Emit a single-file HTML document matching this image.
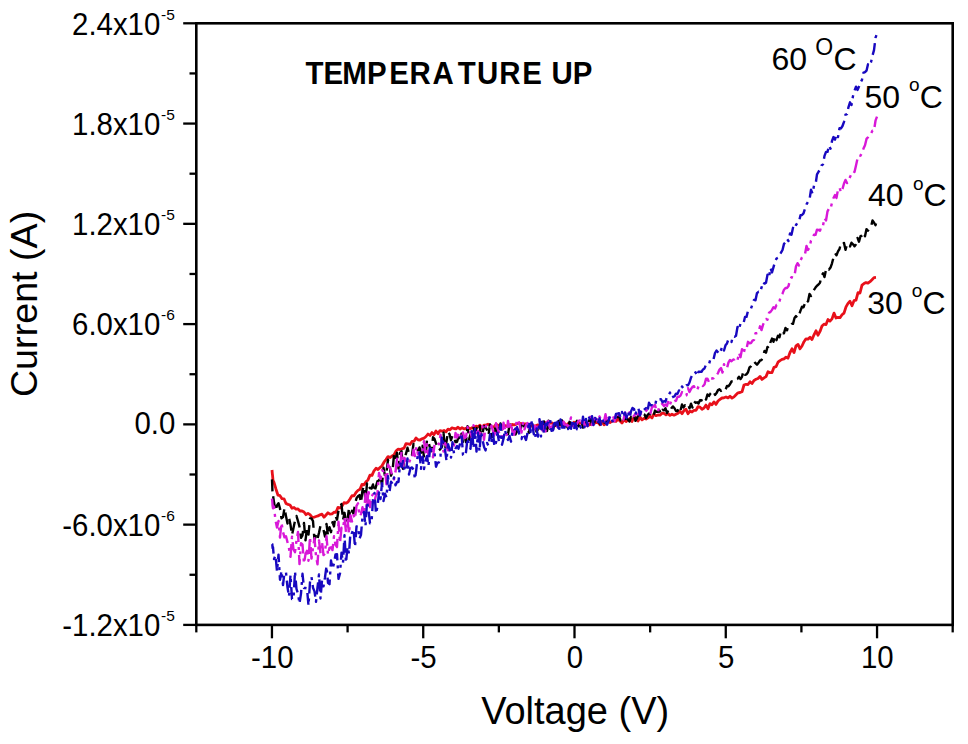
<!DOCTYPE html>
<html><head><meta charset="utf-8"><style>
html,body{margin:0;padding:0;background:#fff;width:968px;height:744px;overflow:hidden}
svg{position:absolute;left:0;top:0;display:block}
text{font-family:"Liberation Sans",sans-serif;fill:#000}
</style></head><body>
<svg width="968" height="744" viewBox="0 0 968 744">
<rect x="0" y="0" width="968" height="744" fill="#fff"/>
<g fill="none" stroke-linejoin="round" stroke-width="2.4">
<path d="M272.0,470.0 L272.3,473.3 L272.6,475.8 L273.0,480.3 L274.0,482.4 L276.0,489.2 L278.0,495.2 L280.0,495.7 L282.0,498.7 L284.0,498.8 L286.0,503.5 L288.0,504.4 L290.0,505.0 L292.0,508.2 L294.0,507.5 L296.0,509.2 L298.0,508.9 L300.0,511.0 L302.0,511.0 L304.0,512.0 L306.0,514.7 L308.0,513.4 L310.0,514.7 L312.0,517.1 L314.0,517.3 L316.0,516.5 L318.0,515.9 L320.0,514.8 L322.0,514.2 L324.0,517.2 L326.0,515.0 L328.0,512.8 L330.0,514.1 L332.0,513.9 L334.0,512.2 L336.0,512.3 L338.0,507.4 L340.0,508.0 L342.0,506.1 L344.0,502.7 L346.0,503.2 L348.0,502.1 L350.0,499.0 L352.0,495.6 L354.0,495.9 L356.0,492.5 L358.0,490.4 L360.0,489.2 L362.0,484.4 L364.0,484.8 L366.0,481.8 L368.0,479.9 L370.0,475.1 L372.0,475.4 L374.0,470.8 L376.0,468.3 L378.0,469.5 L380.0,467.6 L382.0,465.8 L384.0,462.2 L386.0,459.6 L388.0,456.6 L390.0,457.5 L392.0,456.1 L394.0,455.0 L396.0,451.1 L398.0,449.2 L400.0,449.5 L402.0,448.8 L404.0,448.2 L406.0,443.6 L408.0,443.8 L410.0,444.5 L412.0,441.5 L414.0,441.2 L416.0,438.0 L418.0,439.8 L420.0,440.0 L422.0,438.8 L424.0,438.2 L426.0,436.5 L428.0,434.0 L430.0,435.5 L432.0,432.6 L434.0,434.7 L436.0,431.0 L438.0,433.8 L440.0,430.6 L442.0,431.2 L444.0,430.5 L446.0,431.8 L448.0,429.2 L450.0,429.8 L452.0,427.8 L454.0,428.5 L456.0,428.8 L458.0,427.2 L460.0,429.1 L462.0,427.7 L464.0,428.9 L466.0,428.4 L468.0,427.3 L470.0,428.9 L472.0,427.7 L474.0,428.3 L476.0,426.1 L478.0,426.8 L480.0,425.2 L482.0,428.4 L484.0,425.1 L486.0,425.1 L488.0,424.2 L490.0,425.0 L492.0,427.1 L494.0,426.8 L496.0,424.3 L498.0,425.3 L500.0,425.4 L502.0,426.4 L504.0,425.4 L506.0,425.8 L508.0,426.8 L510.0,426.2 L512.0,424.5 L514.0,424.8 L516.0,424.3 L518.0,423.1 L520.0,423.4 L522.0,423.7 L524.0,423.8 L526.0,423.8 L528.0,424.9 L530.0,426.6 L532.0,425.7 L534.0,425.8 L536.0,425.6 L538.0,424.9 L540.0,426.3 L542.0,425.3 L544.0,424.4 L546.0,422.6 L548.0,424.3 L550.0,423.1 L552.0,422.8 L554.0,424.4 L556.0,425.6 L558.0,423.4 L560.0,425.4 L562.0,424.4 L564.0,422.7 L566.0,426.2 L568.0,423.7 L570.0,423.2 L572.0,425.5 L574.0,422.3 L576.0,424.9 L578.0,422.5 L580.0,423.3 L582.0,422.6 L584.0,425.2 L586.0,423.2 L588.0,425.7 L590.0,424.1 L592.0,424.3 L594.0,423.4 L596.0,422.4 L598.0,422.6 L600.0,424.8 L602.0,421.4 L604.0,424.7 L606.0,423.5 L608.0,421.5 L610.0,422.6 L612.0,421.2 L614.0,421.1 L616.0,421.4 L618.0,419.0 L620.0,421.0 L622.0,423.0 L624.0,419.6 L626.0,421.6 L628.0,419.9 L630.0,418.5 L632.0,421.5 L634.0,417.0 L636.0,418.0 L638.0,421.1 L640.0,417.2 L642.0,419.8 L644.0,418.3 L646.0,419.0 L648.0,417.8 L650.0,416.2 L652.0,417.9 L654.0,413.9 L656.0,415.7 L658.0,415.0 L660.0,415.2 L662.0,413.2 L664.0,413.4 L666.0,414.8 L668.0,413.6 L670.0,415.4 L672.0,414.2 L674.0,415.2 L676.0,414.2 L678.0,413.3 L680.0,411.3 L682.0,413.7 L684.0,410.5 L686.0,409.3 L688.0,413.7 L690.0,411.1 L692.0,412.0 L694.0,410.3 L696.0,410.3 L698.0,406.7 L700.0,407.1 L702.0,409.2 L704.0,408.0 L706.0,405.1 L708.0,408.7 L710.0,403.6 L712.0,404.8 L714.0,401.9 L716.0,404.4 L718.0,401.0 L720.0,399.4 L722.0,398.0 L724.0,397.8 L726.0,397.0 L728.0,397.9 L730.0,396.3 L732.0,398.1 L734.0,396.9 L736.0,394.8 L738.0,392.8 L740.0,392.5 L742.0,391.8 L744.0,385.0 L746.0,384.3 L748.0,384.5 L750.0,381.7 L752.0,383.6 L754.0,380.4 L756.0,379.3 L758.0,378.5 L760.0,376.4 L762.0,379.4 L764.0,377.9 L766.0,376.6 L768.0,371.7 L770.0,372.7 L772.0,372.6 L774.0,367.3 L776.0,366.7 L778.0,362.2 L780.0,360.6 L782.0,359.4 L784.0,358.8 L786.0,357.2 L788.0,358.1 L790.0,352.5 L792.0,348.8 L794.0,352.5 L796.0,345.8 L798.0,344.4 L800.0,348.8 L802.0,346.0 L804.0,341.7 L806.0,338.8 L808.0,339.1 L810.0,337.3 L812.0,339.5 L814.0,334.8 L816.0,330.8 L818.0,335.2 L820.0,331.4 L822.0,326.1 L824.0,324.2 L826.0,324.6 L828.0,319.5 L830.0,321.1 L832.0,318.9 L834.0,313.1 L836.0,318.0 L838.0,317.4 L840.0,317.7 L842.0,314.8 L844.0,313.1 L846.0,306.9 L848.0,303.4 L850.0,301.3 L852.0,305.7 L854.0,300.7 L856.0,300.2 L858.0,292.7 L860.0,293.0 L862.0,285.1 L864.0,283.6 L866.0,282.6 L868.0,283.2 L870.0,281.7 L872.0,279.7 L874.0,277.6 L876.0,277.4" stroke="#e8101a" stroke-width="2.8"/>
<path d="M272.0,479.4 L272.3,487.0 L272.6,495.9 L273.0,495.4 L274.0,502.3 L275.5,510.8 L277.0,505.5 L278.5,503.2 L280.0,508.5 L281.5,518.2 L283.0,517.1 L284.5,508.0 L286.0,516.1 L287.5,523.5 L289.0,517.9 L290.5,524.8 L292.0,535.1 L293.5,528.1 L295.0,520.9 L296.5,516.0 L298.0,521.2 L299.5,526.6 L301.0,537.9 L302.5,535.3 L304.0,523.0 L305.5,540.4 L307.0,528.1 L308.5,534.6 L310.0,518.4 L311.5,518.4 L313.0,521.1 L314.5,540.2 L316.0,534.3 L317.5,538.7 L319.0,532.7 L320.5,525.6 L322.0,528.1 L323.5,529.7 L325.0,536.5 L326.5,523.9 L328.0,535.8 L329.5,527.2 L331.0,532.2 L332.5,522.1 L334.0,526.4 L335.5,515.8 L337.0,519.7 L338.5,510.6 L340.0,506.6 L341.5,504.1 L343.0,520.0 L344.5,512.8 L346.0,522.7 L347.5,520.0 L349.0,507.9 L350.5,521.0 L352.0,510.7 L353.5,513.7 L355.0,504.2 L356.5,498.2 L358.0,496.3 L359.5,495.1 L361.0,502.7 L362.5,490.0 L364.0,485.9 L365.5,501.5 L367.0,483.4 L368.5,488.9 L370.0,487.7 L371.5,488.6 L373.0,484.4 L374.5,492.0 L376.0,486.4 L377.5,481.1 L379.0,480.5 L380.5,476.6 L382.0,484.8 L383.5,467.8 L385.0,476.0 L386.5,471.8 L388.0,459.8 L389.5,463.8 L391.0,475.7 L392.5,471.6 L394.0,454.8 L395.5,459.6 L397.0,452.8 L398.5,468.6 L400.0,453.1 L401.5,451.2 L403.0,468.9 L404.5,457.2 L406.0,453.8 L407.5,447.7 L409.0,453.6 L410.5,452.4 L412.0,454.8 L413.5,444.0 L415.0,446.2 L416.5,446.8 L418.0,450.6 L419.5,447.4 L421.0,452.8 L422.5,445.8 L424.0,457.2 L425.5,457.5 L427.0,439.7 L428.5,441.9 L430.0,448.0 L431.5,451.2 L433.0,437.3 L434.5,438.9 L436.0,443.4 L437.5,446.6 L439.0,450.3 L440.5,448.9 L442.0,446.9 L443.5,432.7 L445.0,448.9 L446.5,441.7 L448.0,431.6 L449.5,434.1 L451.0,440.2 L452.5,435.5 L454.0,436.2 L455.5,442.1 L457.0,442.0 L458.5,436.8 L460.0,440.7 L461.5,433.7 L463.0,443.1 L464.5,436.4 L466.0,442.1 L467.5,426.3 L469.0,439.9 L470.5,434.2 L472.0,436.4 L473.5,427.5 L475.0,433.0 L476.5,428.5 L478.0,425.3 L479.5,423.5 L481.0,437.5 L482.5,433.6 L484.0,426.2 L485.5,426.9 L487.0,430.0 L488.5,435.2 L490.0,424.5 L491.5,437.1 L493.0,436.6 L494.5,426.1 L496.0,431.9 L497.5,427.7 L499.0,432.4 L500.5,423.5 L502.0,428.9 L503.5,430.5 L505.0,430.9 L506.5,431.7 L508.0,434.3 L509.5,425.2 L511.0,424.0 L512.5,427.1 L514.0,429.4 L515.5,434.4 L517.0,431.0 L518.5,431.2 L520.0,434.1 L521.5,424.9 L523.0,424.7 L524.5,426.7 L526.0,425.0 L527.5,429.3 L529.0,432.9 L530.5,423.0 L532.0,427.3 L533.5,429.1 L535.0,426.8 L536.5,431.6 L538.0,429.4 L539.5,430.9 L541.0,422.0 L542.5,422.9 L544.0,421.4 L545.5,429.7 L547.0,431.0 L548.5,420.6 L550.0,428.9 L551.5,428.1 L553.0,429.8 L554.5,423.0 L556.0,427.5 L557.5,422.5 L559.0,420.8 L560.5,427.4 L562.0,420.3 L563.5,426.7 L565.0,422.5 L566.5,424.4 L568.0,428.2 L569.5,421.8 L571.0,423.9 L572.5,422.7 L574.0,421.0 L575.5,423.6 L577.0,420.7 L578.5,426.4 L580.0,424.6 L581.5,421.4 L583.0,427.6 L584.5,421.7 L586.0,424.6 L587.5,425.1 L589.0,420.7 L590.5,418.3 L592.0,426.1 L593.5,426.5 L595.0,419.5 L596.5,419.2 L598.0,421.5 L599.5,422.8 L601.0,426.0 L602.5,425.6 L604.0,425.6 L605.5,419.1 L607.0,422.0 L608.5,420.4 L610.0,418.5 L611.5,417.0 L613.0,417.6 L614.5,419.0 L616.0,416.6 L617.5,417.0 L619.0,416.0 L620.5,420.4 L622.0,419.2 L623.5,417.0 L625.0,419.1 L626.5,418.1 L628.0,419.7 L629.5,421.6 L631.0,417.0 L632.5,419.0 L634.0,415.6 L635.5,420.8 L637.0,418.2 L638.5,414.6 L640.0,415.1 L641.5,414.1 L643.0,414.0 L644.5,414.6 L646.0,418.0 L647.5,415.1 L649.0,413.5 L650.5,414.1 L652.0,412.7 L653.5,415.7 L655.0,410.6 L656.5,411.9 L658.0,411.8 L659.5,410.5 L661.0,414.1 L662.5,409.8 L664.0,410.4 L665.5,408.3 L667.0,412.9 L668.5,409.8 L670.0,411.5 L671.5,408.1 L673.0,406.4 L674.5,408.2 L676.0,411.0 L677.5,411.1 L679.0,407.3 L680.5,410.4 L682.0,404.5 L683.5,407.4 L685.0,405.2 L686.5,406.1 L688.0,404.1 L689.5,408.3 L691.0,403.7 L692.5,407.6 L694.0,401.2 L695.5,402.8 L697.0,402.3 L698.5,403.5 L700.0,400.2 L701.5,400.5 L703.0,396.7 L704.5,397.6 L706.0,399.6 L707.5,394.4 L709.0,396.0 L710.5,393.5 L712.0,392.1 L713.5,390.9 L715.0,394.9 L716.5,393.1 L718.0,390.1 L719.5,389.3 L721.0,390.9 L722.5,389.3 L724.0,390.7 L725.5,389.9 L727.0,385.9 L728.5,386.2 L730.0,384.3 L731.5,381.4 L733.0,381.2 L734.5,381.9 L736.0,379.5 L737.5,378.9 L739.0,376.8 L740.5,379.1 L742.0,376.8 L743.5,371.0 L745.0,374.8 L746.5,374.3 L748.0,372.2 L749.5,367.4 L751.0,366.2 L752.5,364.0 L754.0,361.4 L755.5,363.2 L757.0,364.7 L758.5,362.8 L760.0,360.5 L761.5,360.1 L763.0,356.6 L764.5,351.0 L766.0,352.7 L767.5,346.9 L769.0,348.4 L770.5,342.1 L772.0,338.6 L773.5,341.8 L775.0,335.8 L776.5,340.2 L778.0,335.7 L779.5,337.3 L781.0,330.7 L782.5,333.3 L784.0,333.2 L785.5,327.9 L787.0,330.3 L788.5,325.4 L790.0,325.1 L791.5,323.9 L793.0,323.9 L794.5,318.0 L796.0,316.1 L797.5,318.1 L799.0,315.1 L800.5,310.6 L802.0,306.7 L803.5,307.3 L805.0,303.2 L806.5,299.6 L808.0,301.4 L809.5,293.9 L811.0,296.0 L812.5,292.1 L814.0,289.8 L815.5,287.6 L817.0,285.7 L818.5,284.5 L820.0,282.8 L821.5,275.8 L823.0,273.3 L824.5,277.1 L826.0,269.8 L827.5,267.7 L829.0,269.5 L830.5,267.6 L832.0,263.3 L833.5,257.4 L835.0,253.2 L836.5,255.3 L838.0,251.3 L839.5,249.0 L841.0,243.3 L842.5,244.4 L844.0,242.9 L845.5,249.8 L847.0,244.5 L848.5,243.8 L850.0,246.5 L851.5,242.7 L853.0,244.3 L854.5,246.3 L856.0,244.2 L857.5,237.9 L859.0,241.7 L860.5,236.2 L862.0,235.6 L863.5,232.5 L865.0,236.3 L866.5,229.1 L868.0,230.7 L869.5,228.0 L871.0,226.8 L872.5,220.4 L874.0,222.7 L875.5,225.2 L877.0,220.5" stroke="#000" stroke-dasharray="12 6"/>
<path d="M272.0,498.6 L272.3,501.5 L272.6,505.8 L273.0,508.3 L274.0,506.6 L275.5,520.4 L277.0,527.5 L278.5,521.0 L280.0,537.6 L281.5,522.7 L283.0,532.0 L284.5,537.3 L286.0,536.2 L287.5,542.3 L289.0,548.5 L290.5,556.9 L292.0,536.6 L293.5,549.5 L295.0,552.2 L296.5,540.4 L298.0,532.0 L299.5,564.1 L301.0,543.3 L302.5,544.4 L304.0,563.5 L305.5,554.1 L307.0,550.8 L308.5,560.7 L310.0,537.0 L311.5,558.6 L313.0,547.7 L314.5,538.3 L316.0,556.1 L317.5,564.3 L319.0,540.5 L320.5,553.3 L322.0,541.8 L323.5,555.1 L325.0,553.4 L326.5,536.2 L328.0,554.6 L329.5,547.8 L331.0,547.3 L332.5,550.1 L334.0,536.3 L335.5,544.9 L337.0,547.0 L338.5,521.8 L340.0,542.8 L341.5,527.7 L343.0,528.8 L344.5,517.6 L346.0,532.2 L347.5,519.0 L349.0,533.8 L350.5,515.4 L352.0,521.5 L353.5,515.1 L355.0,518.9 L356.5,505.8 L358.0,503.3 L359.5,516.1 L361.0,514.1 L362.5,507.2 L364.0,514.3 L365.5,493.8 L367.0,508.3 L368.5,488.8 L370.0,507.2 L371.5,496.5 L373.0,494.2 L374.5,501.6 L376.0,495.1 L377.5,493.3 L379.0,473.0 L380.5,479.1 L382.0,470.2 L383.5,471.2 L385.0,470.0 L386.5,484.3 L388.0,464.5 L389.5,467.1 L391.0,470.5 L392.5,477.9 L394.0,479.4 L395.5,471.8 L397.0,458.6 L398.5,465.6 L400.0,468.5 L401.5,451.8 L403.0,466.2 L404.5,457.9 L406.0,462.5 L407.5,463.7 L409.0,463.0 L410.5,458.8 L412.0,458.9 L413.5,449.8 L415.0,456.1 L416.5,446.8 L418.0,454.5 L419.5,455.1 L421.0,460.0 L422.5,450.6 L424.0,441.3 L425.5,452.4 L427.0,444.3 L428.5,456.0 L430.0,447.1 L431.5,446.2 L433.0,457.4 L434.5,444.8 L436.0,443.0 L437.5,442.1 L439.0,444.2 L440.5,434.7 L442.0,444.0 L443.5,451.6 L445.0,442.9 L446.5,446.3 L448.0,450.2 L449.5,447.4 L451.0,444.8 L452.5,445.8 L454.0,445.5 L455.5,432.9 L457.0,437.4 L458.5,434.1 L460.0,432.0 L461.5,438.1 L463.0,432.4 L464.5,438.3 L466.0,437.1 L467.5,426.9 L469.0,433.4 L470.5,432.0 L472.0,438.0 L473.5,425.3 L475.0,426.7 L476.5,433.1 L478.0,430.8 L479.5,435.6 L481.0,429.0 L482.5,426.2 L484.0,439.9 L485.5,426.7 L487.0,424.7 L488.5,427.0 L490.0,427.9 L491.5,425.6 L493.0,431.1 L494.5,438.1 L496.0,423.3 L497.5,428.3 L499.0,432.5 L500.5,436.1 L502.0,437.8 L503.5,422.8 L505.0,429.4 L506.5,435.0 L508.0,420.9 L509.5,429.6 L511.0,422.6 L512.5,432.2 L514.0,434.8 L515.5,428.2 L517.0,419.6 L518.5,420.4 L520.0,425.9 L521.5,432.5 L523.0,422.9 L524.5,429.4 L526.0,425.3 L527.5,423.1 L529.0,429.5 L530.5,423.5 L532.0,424.4 L533.5,429.9 L535.0,425.9 L536.5,429.9 L538.0,426.0 L539.5,420.9 L541.0,424.7 L542.5,430.5 L544.0,426.2 L545.5,431.4 L547.0,418.5 L548.5,422.8 L550.0,428.3 L551.5,427.1 L553.0,425.3 L554.5,426.5 L556.0,429.0 L557.5,426.4 L559.0,424.6 L560.5,424.7 L562.0,425.8 L563.5,421.6 L565.0,425.5 L566.5,424.7 L568.0,426.5 L569.5,422.8 L571.0,417.5 L572.5,423.2 L574.0,426.7 L575.5,424.0 L577.0,423.9 L578.5,420.9 L580.0,420.4 L581.5,424.3 L583.0,417.1 L584.5,425.5 L586.0,425.5 L587.5,426.2 L589.0,417.2 L590.5,416.9 L592.0,425.0 L593.5,419.6 L595.0,418.1 L596.5,419.1 L598.0,421.8 L599.5,416.5 L601.0,419.6 L602.5,421.2 L604.0,421.5 L605.5,414.2 L607.0,421.9 L608.5,417.9 L610.0,417.7 L611.5,418.7 L613.0,415.7 L614.5,421.3 L616.0,414.6 L617.5,417.5 L619.0,413.7 L620.5,417.7 L622.0,420.0 L623.5,419.6 L625.0,412.5 L626.5,416.7 L628.0,418.8 L629.5,412.3 L631.0,413.9 L632.5,416.2 L634.0,416.0 L635.5,413.2 L637.0,414.4 L638.5,414.3 L640.0,411.3 L641.5,413.4 L643.0,412.4 L644.5,413.0 L646.0,411.1 L647.5,409.3 L649.0,409.7 L650.5,413.2 L652.0,407.0 L653.5,406.3 L655.0,404.9 L656.5,411.1 L658.0,411.7 L659.5,405.3 L661.0,405.0 L662.5,403.8 L664.0,406.1 L665.5,404.4 L667.0,406.0 L668.5,400.4 L670.0,404.5 L671.5,400.4 L673.0,402.0 L674.5,401.0 L676.0,400.8 L677.5,396.8 L679.0,396.8 L680.5,395.6 L682.0,392.1 L683.5,393.6 L685.0,396.0 L686.5,395.2 L688.0,388.1 L689.5,392.1 L691.0,389.0 L692.5,386.9 L694.0,386.2 L695.5,390.1 L697.0,390.4 L698.5,386.5 L700.0,384.6 L701.5,384.6 L703.0,386.0 L704.5,384.5 L706.0,378.7 L707.5,378.7 L709.0,382.2 L710.5,378.5 L712.0,378.5 L713.5,378.2 L715.0,376.0 L716.5,375.5 L718.0,373.0 L719.5,369.5 L721.0,368.0 L722.5,372.5 L724.0,364.3 L725.5,368.0 L727.0,368.2 L728.5,362.4 L730.0,360.0 L731.5,361.3 L733.0,359.7 L734.5,359.4 L736.0,357.9 L737.5,360.2 L739.0,352.8 L740.5,357.2 L742.0,349.1 L743.5,353.9 L745.0,347.8 L746.5,348.9 L748.0,341.8 L749.5,343.2 L751.0,343.0 L752.5,340.7 L754.0,340.0 L755.5,333.3 L757.0,333.1 L758.5,332.7 L760.0,326.3 L761.5,330.1 L763.0,324.9 L764.5,321.4 L766.0,318.9 L767.5,319.7 L769.0,312.8 L770.5,311.9 L772.0,309.9 L773.5,307.2 L775.0,308.4 L776.5,305.0 L778.0,305.0 L779.5,301.2 L781.0,295.9 L782.5,293.7 L784.0,289.7 L785.5,288.0 L787.0,288.0 L788.5,286.1 L790.0,279.9 L791.5,277.2 L793.0,277.7 L794.5,275.8 L796.0,266.3 L797.5,263.2 L799.0,265.5 L800.5,260.7 L802.0,257.3 L803.5,256.0 L805.0,254.1 L806.5,246.0 L808.0,250.0 L809.5,247.3 L811.0,240.6 L812.5,238.6 L814.0,234.7 L815.5,234.8 L817.0,229.7 L818.5,230.0 L820.0,230.8 L821.5,225.5 L823.0,225.6 L824.5,218.0 L826.0,220.5 L827.5,211.4 L829.0,208.6 L830.5,209.1 L832.0,202.5 L833.5,198.0 L835.0,195.0 L836.5,197.9 L838.0,189.6 L839.5,187.6 L841.0,192.4 L842.5,188.9 L844.0,183.5 L845.5,179.9 L847.0,183.1 L848.5,180.2 L850.0,177.1 L851.5,173.6 L853.0,171.1 L854.5,171.9 L856.0,165.4 L857.5,158.7 L859.0,155.2 L860.5,155.7 L862.0,153.1 L863.5,148.5 L865.0,145.3 L866.5,138.9 L868.0,137.2 L869.5,134.5 L871.0,133.8 L872.5,130.6 L874.0,130.7 L875.5,120.7 L877.0,116.7" stroke="#d818d8" stroke-dasharray="14 5 3 5"/>
<path d="M272.0,543.9 L272.3,544.1 L272.6,548.2 L273.0,547.2 L274.0,559.1 L275.5,555.3 L277.0,571.3 L278.5,554.6 L280.0,579.7 L281.5,570.9 L283.0,585.0 L284.5,572.4 L286.0,572.5 L287.5,587.3 L289.0,596.5 L290.5,574.9 L292.0,599.1 L293.5,598.9 L295.0,571.5 L296.5,589.0 L298.0,593.6 L299.5,603.5 L301.0,593.6 L302.5,573.8 L304.0,588.0 L305.5,588.0 L307.0,588.3 L308.5,605.6 L310.0,582.2 L311.5,576.9 L313.0,587.7 L314.5,591.4 L316.0,601.9 L317.5,587.4 L319.0,574.4 L320.5,598.5 L322.0,580.6 L323.5,586.4 L325.0,577.4 L326.5,566.2 L328.0,582.8 L329.5,584.2 L331.0,560.5 L332.5,568.9 L334.0,563.4 L335.5,554.4 L337.0,554.2 L338.5,578.9 L340.0,573.5 L341.5,552.8 L343.0,562.7 L344.5,535.2 L346.0,562.8 L347.5,546.8 L349.0,553.5 L350.5,532.1 L352.0,532.8 L353.5,529.1 L355.0,547.0 L356.5,526.5 L358.0,526.3 L359.5,538.6 L361.0,534.7 L362.5,516.5 L364.0,511.9 L365.5,526.1 L367.0,502.1 L368.5,509.5 L370.0,523.3 L371.5,523.0 L373.0,499.6 L374.5,493.0 L376.0,513.6 L377.5,506.5 L379.0,492.5 L380.5,499.0 L382.0,483.3 L383.5,501.1 L385.0,493.7 L386.5,497.4 L388.0,476.2 L389.5,491.8 L391.0,481.6 L392.5,484.0 L394.0,477.4 L395.5,485.3 L397.0,481.9 L398.5,482.0 L400.0,463.4 L401.5,467.1 L403.0,461.0 L404.5,469.4 L406.0,471.2 L407.5,458.5 L409.0,474.6 L410.5,468.0 L412.0,467.4 L413.5,469.6 L415.0,479.2 L416.5,467.8 L418.0,451.8 L419.5,452.7 L421.0,468.8 L422.5,456.6 L424.0,469.1 L425.5,460.8 L427.0,455.9 L428.5,466.0 L430.0,448.2 L431.5,450.4 L433.0,449.8 L434.5,452.6 L436.0,466.7 L437.5,462.9 L439.0,462.3 L440.5,455.7 L442.0,436.1 L443.5,443.7 L445.0,449.5 L446.5,460.8 L448.0,444.2 L449.5,449.2 L451.0,457.6 L452.5,442.1 L454.0,453.6 L455.5,448.6 L457.0,446.1 L458.5,448.7 L460.0,444.1 L461.5,433.0 L463.0,454.9 L464.5,456.4 L466.0,452.1 L467.5,438.2 L469.0,445.5 L470.5,448.8 L472.0,429.0 L473.5,448.4 L475.0,428.9 L476.5,451.6 L478.0,432.6 L479.5,451.4 L481.0,431.8 L482.5,439.4 L484.0,446.8 L485.5,450.4 L487.0,442.9 L488.5,445.8 L490.0,434.3 L491.5,443.0 L493.0,433.5 L494.5,446.7 L496.0,442.5 L497.5,432.6 L499.0,442.1 L500.5,424.5 L502.0,444.7 L503.5,438.8 L505.0,430.0 L506.5,437.1 L508.0,439.9 L509.5,436.1 L511.0,441.6 L512.5,430.7 L514.0,428.4 L515.5,429.3 L517.0,427.1 L518.5,431.1 L520.0,436.8 L521.5,439.0 L523.0,433.6 L524.5,436.5 L526.0,440.0 L527.5,433.3 L529.0,421.5 L530.5,432.1 L532.0,419.9 L533.5,432.6 L535.0,438.5 L536.5,428.4 L538.0,436.6 L539.5,419.1 L541.0,436.5 L542.5,421.6 L544.0,433.6 L545.5,423.7 L547.0,425.2 L548.5,420.4 L550.0,418.6 L551.5,430.8 L553.0,430.4 L554.5,419.8 L556.0,427.9 L557.5,421.7 L559.0,431.9 L560.5,419.4 L562.0,426.5 L563.5,431.0 L565.0,425.3 L566.5,427.1 L568.0,429.0 L569.5,427.2 L571.0,428.8 L572.5,419.5 L574.0,429.6 L575.5,423.3 L577.0,429.2 L578.5,425.8 L580.0,426.0 L581.5,428.9 L583.0,416.7 L584.5,427.3 L586.0,419.0 L587.5,426.1 L589.0,417.7 L590.5,420.8 L592.0,416.2 L593.5,425.0 L595.0,417.9 L596.5,420.1 L598.0,424.1 L599.5,418.3 L601.0,424.7 L602.5,419.6 L604.0,424.8 L605.5,422.3 L607.0,424.7 L608.5,420.9 L610.0,415.7 L611.5,418.1 L613.0,422.6 L614.5,422.1 L616.0,413.9 L617.5,413.6 L619.0,413.3 L620.5,417.2 L622.0,412.0 L623.5,417.3 L625.0,412.7 L626.5,418.0 L628.0,411.2 L629.5,418.0 L631.0,411.4 L632.5,407.9 L634.0,408.9 L635.5,415.1 L637.0,408.2 L638.5,408.6 L640.0,415.5 L641.5,409.4 L643.0,411.0 L644.5,409.4 L646.0,408.1 L647.5,411.3 L649.0,402.8 L650.5,405.2 L652.0,405.1 L653.5,406.4 L655.0,406.0 L656.5,398.9 L658.0,398.9 L659.5,399.3 L661.0,399.3 L662.5,402.2 L664.0,401.1 L665.5,401.7 L667.0,396.5 L668.5,395.7 L670.0,392.6 L671.5,397.8 L673.0,396.9 L674.5,396.4 L676.0,393.7 L677.5,393.9 L679.0,390.4 L680.5,391.5 L682.0,386.4 L683.5,388.6 L685.0,387.4 L686.5,385.1 L688.0,385.3 L689.5,382.5 L691.0,377.7 L692.5,374.5 L694.0,374.8 L695.5,372.3 L697.0,375.9 L698.5,371.8 L700.0,371.8 L701.5,371.8 L703.0,369.4 L704.5,368.4 L706.0,364.7 L707.5,364.4 L709.0,364.2 L710.5,358.9 L712.0,359.2 L713.5,359.4 L715.0,353.0 L716.5,350.5 L718.0,352.2 L719.5,353.9 L721.0,350.0 L722.5,346.4 L724.0,350.5 L725.5,345.3 L727.0,343.4 L728.5,339.1 L730.0,339.8 L731.5,341.9 L733.0,336.1 L734.5,336.7 L736.0,335.7 L737.5,327.0 L739.0,329.7 L740.5,323.3 L742.0,323.5 L743.5,323.4 L745.0,317.0 L746.5,316.9 L748.0,310.9 L749.5,310.4 L751.0,308.5 L752.5,304.3 L754.0,299.9 L755.5,300.2 L757.0,293.1 L758.5,291.8 L760.0,292.5 L761.5,287.7 L763.0,282.0 L764.5,283.6 L766.0,282.7 L767.5,274.6 L769.0,277.4 L770.5,268.0 L772.0,272.4 L773.5,267.1 L775.0,261.8 L776.5,258.5 L778.0,257.8 L779.5,255.0 L781.0,252.7 L782.5,250.0 L784.0,243.9 L785.5,242.3 L787.0,238.8 L788.5,241.1 L790.0,233.5 L791.5,234.8 L793.0,227.8 L794.5,229.4 L796.0,225.0 L797.5,222.7 L799.0,221.6 L800.5,215.2 L802.0,215.0 L803.5,213.4 L805.0,208.8 L806.5,204.4 L808.0,201.8 L809.5,199.9 L811.0,189.7 L812.5,193.5 L814.0,185.7 L815.5,184.9 L817.0,174.3 L818.5,171.8 L820.0,169.6 L821.5,165.5 L823.0,164.4 L824.5,155.9 L826.0,151.9 L827.5,151.9 L829.0,145.4 L830.5,148.7 L832.0,141.0 L833.5,137.0 L835.0,139.6 L836.5,134.2 L838.0,137.1 L839.5,128.2 L841.0,128.4 L842.5,126.0 L844.0,121.8 L845.5,114.6 L847.0,114.2 L848.5,107.1 L850.0,102.3 L851.5,105.0 L853.0,96.0 L854.5,90.8 L856.0,86.7 L857.5,90.0 L859.0,86.6 L860.5,82.5 L862.0,79.8 L863.5,72.6 L865.0,72.2 L866.5,70.7 L868.0,64.3 L869.5,65.8 L871.0,62.2 L872.5,55.5 L874.0,50.1 L875.5,37.9 L877.0,33.5" stroke="#1808c0" stroke-dasharray="12 5 3 5"/>
</g>
<g stroke="#000" fill="none">
<rect x="196.3" y="23.3" width="756.40" height="601.60" stroke-width="2.6"/>
<g stroke-width="2.3"><line x1="271.95" y1="624.9" x2="271.95" y2="638.3"/><line x1="423.23" y1="624.9" x2="423.23" y2="638.3"/><line x1="574.50" y1="624.9" x2="574.50" y2="638.3"/><line x1="725.77" y1="624.9" x2="725.77" y2="638.3"/><line x1="877.05" y1="624.9" x2="877.05" y2="638.3"/><line x1="196.31" y1="624.9" x2="196.31" y2="632.4"/><line x1="347.59" y1="624.9" x2="347.59" y2="632.4"/><line x1="498.86" y1="624.9" x2="498.86" y2="632.4"/><line x1="650.14" y1="624.9" x2="650.14" y2="632.4"/><line x1="801.41" y1="624.9" x2="801.41" y2="632.4"/><line x1="952.69" y1="624.9" x2="952.69" y2="632.4"/><line x1="183.2" y1="23.30" x2="196.3" y2="23.30"/><line x1="183.2" y1="123.57" x2="196.3" y2="123.57"/><line x1="183.2" y1="223.83" x2="196.3" y2="223.83"/><line x1="183.2" y1="324.10" x2="196.3" y2="324.10"/><line x1="183.2" y1="424.37" x2="196.3" y2="424.37"/><line x1="183.2" y1="524.63" x2="196.3" y2="524.63"/><line x1="183.2" y1="624.90" x2="196.3" y2="624.90"/><line x1="189.5" y1="73.43" x2="196.3" y2="73.43"/><line x1="189.5" y1="173.70" x2="196.3" y2="173.70"/><line x1="189.5" y1="273.97" x2="196.3" y2="273.97"/><line x1="189.5" y1="374.23" x2="196.3" y2="374.23"/><line x1="189.5" y1="474.50" x2="196.3" y2="474.50"/><line x1="189.5" y1="574.77" x2="196.3" y2="574.77"/></g>
</g>
<g font-size="30">
<text text-anchor="end" transform="translate(160.3,34.60) scale(0.98,1.05)">2.4x10</text><text x="174.8" y="19.60" text-anchor="end" font-size="15.5">-5</text><text text-anchor="end" transform="translate(160.3,134.87) scale(0.98,1.05)">1.8x10</text><text x="174.8" y="119.87" text-anchor="end" font-size="15.5">-5</text><text text-anchor="end" transform="translate(160.3,235.13) scale(0.98,1.05)">1.2x10</text><text x="174.8" y="220.13" text-anchor="end" font-size="15.5">-5</text><text text-anchor="end" transform="translate(160.3,335.40) scale(0.98,1.05)">6.0x10</text><text x="174.8" y="320.40" text-anchor="end" font-size="15.5">-6</text><text text-anchor="end" transform="translate(175.3,433.77) scale(0.98,1.05)">0.0</text><text text-anchor="end" transform="translate(160.3,535.93) scale(0.98,1.05)">-6.0x10</text><text x="174.8" y="520.93" text-anchor="end" font-size="15.5">-6</text><text text-anchor="end" transform="translate(160.3,636.20) scale(0.98,1.05)">-1.2x10</text><text x="174.8" y="621.20" text-anchor="end" font-size="15.5">-5</text>
<text text-anchor="middle" transform="translate(272.25,668.3) scale(0.98,1.05)">-10</text><text text-anchor="middle" transform="translate(423.53,668.3) scale(0.98,1.05)">-5</text><text text-anchor="middle" transform="translate(574.80,668.3) scale(0.98,1.05)">0</text><text text-anchor="middle" transform="translate(726.07,668.3) scale(0.98,1.05)">5</text><text text-anchor="middle" transform="translate(877.35,668.3) scale(0.98,1.05)">10</text>
</g>
<text font-size="38" x="481.15" y="723.7">Voltage (V)</text>
<text font-size="37.7" transform="translate(36.8,397.1) rotate(-90)">Current (A)</text>
<text font-size="31" font-weight="bold" transform="translate(0,83.6) scale(0.95,1)" x="321.62 340.62 360.20 386.30 409.88 431.14 455.36 481.94 502.12 525.46 549.77 568.42 580.44 602.83">TEMPERATURE UP</text>
<text x="771.48" y="70.10" font-size="32">60</text><text x="815.28" y="54.50" font-size="23">O</text><text x="833.58" y="70.10" font-size="32">C</text><text x="864.55" y="107.60" font-size="32">50</text><text x="908.95" y="90.90" font-size="19">o</text><text x="919.78" y="107.60" font-size="32">C</text><text x="868.05" y="206.40" font-size="32">40</text><text x="912.95" y="189.90" font-size="19">o</text><text x="923.48" y="206.40" font-size="32">C</text><text x="867.15" y="314.00" font-size="32">30</text><text x="911.75" y="296.60" font-size="19">o</text><text x="922.48" y="314.00" font-size="32">C</text>
</svg>
</body></html>
